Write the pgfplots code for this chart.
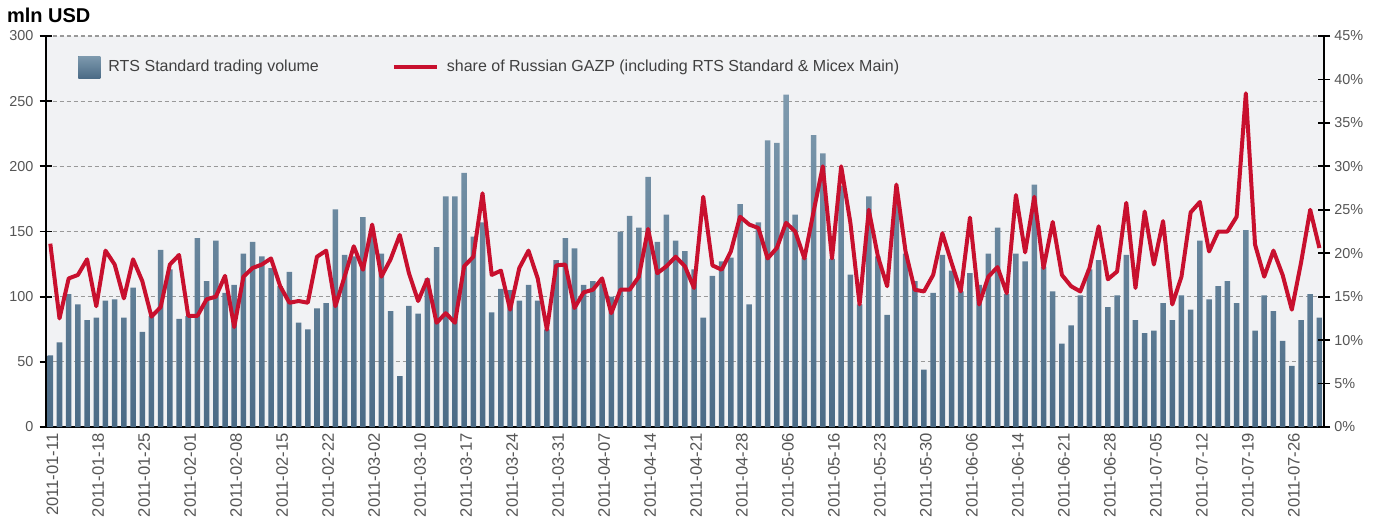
\documentclass[border=0pt]{standalone}
\usepackage{fontspec}
\setmainfont{Liberation Sans}
\usepackage{pgfplots}
\pgfplotsset{compat=1.18}
\usepackage{pgfplotstable}

\definecolor{barTop}{HTML}{7E9AAE}
\definecolor{barBot}{HTML}{4B6B86}
\definecolor{gazp}{HTML}{C8102E}
\definecolor{plotbg}{HTML}{F1F2F4}
\definecolor{tickgrey}{HTML}{555555}
\definecolor{gridgrey}{HTML}{999999}

% n = trading day index, vol = RTS Standard volume (mln USD), share = GAZP share (%)
\pgfplotstableread{
n vol share
1 55 21.1
2 65 12.5
3 102 17.1
4 94 17.5
5 82 19.3
6 84 13.9
7 97 20.3
8 98 18.7
9 84 14.8
10 107 19.3
11 73 16.8
12 85 12.7
13 136 13.8
14 121 18.7
15 83 19.8
16 85 12.8
17 145 12.8
18 112 14.7
19 143 15.0
20 103 17.4
21 109 11.5
22 133 17.3
23 142 18.3
24 131 18.7
25 122 19.4
26 108 16.2
27 119 14.3
28 80 14.5
29 75 14.3
30 91 19.6
31 95 20.3
32 167 13.9
33 132 17.3
34 131 20.8
35 161 18.1
36 150 23.3
37 133 17.3
38 89 19.3
39 39 22.1
40 93 17.7
41 87 14.5
42 114 17.0
43 138 12.0
44 177 13.1
45 177 12.0
46 195 18.5
47 146 19.6
48 157 26.9
49 88 17.5
50 106 18.0
51 105 13.5
52 97 18.3
53 109 20.3
54 97 17.1
55 75 11.2
56 128 18.6
57 145 18.7
58 137 13.7
59 109 15.5
60 112 15.8
61 110 17.1
62 100 13.1
63 150 15.8
64 162 15.8
65 153 17.3
66 192 22.8
67 142 17.7
68 163 18.5
69 143 19.6
70 135 18.5
71 121 16.0
72 84 26.5
73 116 18.6
74 127 18.1
75 130 20.2
76 171 24.2
77 94 23.3
78 157 22.9
79 220 19.4
80 218 20.6
81 255 23.5
82 163 22.5
83 130 19.4
84 224 24.8
85 210 30.0
86 129 19.4
87 185 30.0
88 117 23.5
89 94 14.1
90 177 25.0
91 131 19.6
92 86 16.2
93 177 27.9
94 133 20.2
95 112 15.8
96 44 15.6
97 103 17.5
98 132 22.3
99 120 18.9
100 104 15.6
101 118 24.1
102 109 14.1
103 133 17.3
104 153 18.4
105 102 15.4
106 133 26.7
107 127 20.1
108 186 26.5
109 123 18.3
110 104 23.6
111 64 17.5
112 78 16.2
113 101 15.6
114 121 18.3
115 128 23.1
116 92 17.0
117 101 17.9
118 132 25.8
119 82 16.0
120 72 24.8
121 74 18.7
122 95 23.7
123 82 14.1
124 101 17.3
125 90 24.7
126 143 25.9
127 98 20.2
128 108 22.5
129 112 22.5
130 95 24.2
131 151 38.4
132 74 21.0
133 101 17.3
134 89 20.3
135 66 17.5
136 47 13.5
137 82 18.9
138 102 25.0
139 84 20.6
}\rts

\begin{document}
\begin{tikzpicture}
\pgfplotsset{
  common/.style={
    scale only axis, width=639.15pt, height=195.5pt,
    at={(0,0)}, anchor=south west,
    xmin=0.5, xmax=139.5,
    tick align=center, major tick length=6pt,
    tick style={black, line width=0.9pt},
    axis line style={-, black, line width=0.9pt},
    tick label style={font=\fontsize{7.2}{8}\selectfont, text=tickgrey},
    /pgf/number format/assume math mode=true,
  },
}
\begin{axis}[common,
  clip=false,
  ymin=0, ymax=300, ytick={0,50,...,300},
  axis x line*=bottom, axis y line*=left,
  axis background/.style={fill=plotbg},
  ymajorgrids,
  grid style={gridgrey, dash pattern=on 2pt off 1.5pt, line width=0.6pt},
  xtick={1,6,...,136},
  xticklabels={2011-01-11,2011-01-18,2011-01-25,2011-02-01,2011-02-08,
    2011-02-15,2011-02-22,2011-03-02,2011-03-10,2011-03-17,2011-03-24,
    2011-03-31,2011-04-07,2011-04-14,2011-04-21,2011-04-28,2011-05-06,
    2011-05-16,2011-05-23,2011-05-30,2011-06-06,2011-06-14,2011-06-21,
    2011-06-28,2011-07-05,2011-07-12,2011-07-19,2011-07-26},
  x tick label style={rotate=90, anchor=east, inner sep=0pt, yshift=-1pt,
    font=\fontsize{8.3}{9}\selectfont},
  xtick style={draw=none},
  minor xtick={0.5,1.5,...,139.5},
  minor tick length=3pt,
  minor x tick style={black, line width=0.8pt, yshift=1pt},
  y tick label style={anchor=east, inner sep=0pt, xshift=-3pt},
  legend style={draw=none, fill=none, inner sep=0pt,
    at={(axis description cs:0.0253,0.9207)}, anchor=west,
    font=\fontsize{8}{9.6}\selectfont, text=black!75,
    /tikz/every odd column/.append style={column sep=2pt},
    /tikz/every even column/.append style={column sep=34.5pt}},
  legend columns=2, legend cell align=left,
]
\addplot[ybar, bar width=0.6, bar shift=0pt, draw=none,
  top color=barTop, bottom color=barBot,
  legend image code/.code={\fill[barBot!85!barTop] (0pt,-5.5pt) rectangle (11pt,5.5pt);}]
  table[x=n, y=vol] {\rts};
\addlegendentry{RTS Standard trading volume}
\addlegendimage{legend image code/.code={\draw[gazp, line width=2pt] (0pt,0pt) -- (21.5pt,0pt);}}
\addlegendentry{share of Russian GAZP (including RTS Standard \& Micex Main)}
\node[anchor=base west, inner sep=0pt, font=\bfseries\fontsize{10}{12}\selectfont]
  at (axis description cs:-0.0305,1.034) {mln USD};
\end{axis}
\begin{axis}[common,
  ymin=0, ymax=45, ytick={0,5,...,45},
  yticklabel={\pgfmathprintnumber{\tick}\%},
  y tick label style={anchor=west, inner sep=0pt, xshift=2pt},
  axis y line*=right, axis x line=none,
]
\addplot[gazp, line width=2pt, line join=round, mark=none]
  table[x=n, y=share] {\rts};
\end{axis}
\pgfresetboundingbox
\useasboundingbox (-22.85pt,-47pt) rectangle (667.65pt,213.5pt);
\end{tikzpicture}
\end{document}
